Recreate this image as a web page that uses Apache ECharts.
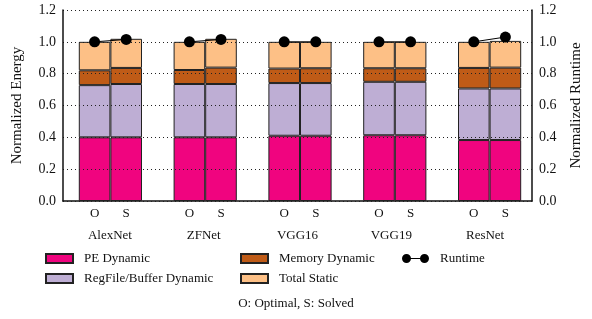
<!DOCTYPE html>
<html>
<head>
<meta charset="utf-8">
<script src="https://cdn.jsdelivr.net/npm/echarts@6/dist/echarts.min.js"></script>
<style>
  html, body { margin: 0; padding: 0; background: #fff; }
  #chart { width: 592px; height: 319px; }
</style>
</head>
<body>
<div id="chart"></div>
<script>
  // networks, each has an O (optimal) and S (solved) bar
  var networks = ['AlexNet', 'ZFNet', 'VGG16', 'VGG19', 'ResNet'];
  var barLabels = ['O', 'S'];
  var yTicks = [0, 0.2, 0.4, 0.6, 0.8, 1.0, 1.2];

  // stacked segment values, order: AlexNet O, AlexNet S, ZFNet O, ZFNet S, ...
  var peDynamic     = [0.400, 0.400, 0.400, 0.400, 0.410, 0.410, 0.413, 0.413, 0.383, 0.383];
  var regfileDyn    = [0.328, 0.335, 0.335, 0.335, 0.331, 0.331, 0.336, 0.336, 0.324, 0.324];
  var memoryDynamic = [0.093, 0.101, 0.088, 0.103, 0.091, 0.093, 0.085, 0.085, 0.129, 0.131];
  var totalStatic   = [0.179, 0.183, 0.177, 0.181, 0.168, 0.166, 0.166, 0.166, 0.164, 0.168];
  var runtime       = [1.000, 1.015, 1.000, 1.015, 1.000, 1.000, 1.000, 1.000, 1.000, 1.030];

  var FONT = "'Liberation Serif', 'DejaVu Serif', serif";

  // category slots: O, S, (gap), O, S, (gap) ...
  var slots = [];
  networks.forEach(function (n, k) {
    slots.push(barLabels[0], barLabels[1]);
    if (k < networks.length - 1) slots.push('');
  });

  // spread a per-bar array over the slots, gaps get '-'
  function spread(arr) {
    var out = [];
    arr.forEach(function (v, i) {
      out.push(v);
      if (i % 2 === 1 && i < arr.length - 1) out.push('-');
    });
    return out;
  }

  var L = 63, R = 55;                       // outer frame (axes)
  var unit = (592 - L - R) / (slots.length + 1);

  function barSeries(name, data, color) {
    return {
      name: name,
      type: 'bar',
      stack: 'energy',
      barCategoryGap: 0,
      data: spread(data),
      itemStyle: { color: color, borderColor: '#222', borderWidth: 1 }
    };
  }

  var chart = echarts.init(document.getElementById('chart'));

  var dumbbell = 'path://M0,4.5A4.5,4.5 0 1,1 9,4.5A4.5,4.5 0 1,1 0,4.5Z M8,4L19,4L19,5L8,5Z M18,4.5A4.5,4.5 0 1,1 27,4.5A4.5,4.5 0 1,1 18,4.5Z';

  var legendBase = {
    orient: 'vertical',
    top: 252,
    padding: 0,
    itemGap: 7,
    itemWidth: 27,
    itemHeight: 9,
    icon: 'rect',
    textStyle: { fontFamily: FONT, fontSize: 13, color: '#111', padding: [0, 0, 0, 6] }
  };

  var tickLabel = function (v) { return v.toFixed(1); };

  var option = {
    animation: false,
    textStyle: { fontFamily: FONT },
    title: {
      text: 'O: Optimal, S: Solved',
      left: 'center',
      top: 297,
      padding: 0,
      textStyle: { fontFamily: FONT, fontSize: 13, fontWeight: 'normal', color: '#111' }
    },
    legend: [
      Object.assign({}, legendBase, { left: 45, data: ['PE Dynamic', 'RegFile/Buffer Dynamic'] }),
      Object.assign({}, legendBase, { left: 240, data: ['Memory Dynamic', 'Total Static'] }),
      Object.assign({}, legendBase, { left: 402, data: [{ name: 'Runtime', icon: dumbbell }] })
    ],
    grid: [
      // bars
      { left: L + unit / 2, right: R + unit / 2, top: 10, bottom: 118 },
      // frame: axes, grid lines, names
      { left: L, right: R, top: 10, bottom: 118 }
    ],
    xAxis: [
      {
        type: 'category',
        gridIndex: 0,
        data: slots,
        axisLine: { show: false },
        axisTick: { show: false },
        axisLabel: { interval: 0, margin: 6, fontFamily: FONT, fontSize: 13, color: '#111' }
      },
      {
        type: 'value',
        gridIndex: 1,
        min: -1,
        max: slots.length,
        interval: 0.5,
        axisLine: { onZero: false, lineStyle: { color: '#111', width: 1.5 } },
        axisTick: { show: false },
        splitLine: { show: false },
        axisLabel: {
          margin: 28,
          fontFamily: FONT,
          fontSize: 13,
          color: '#111',
          formatter: function (v) {
            var k = v - 0.5;
            if (Math.abs(k % 3) > 1e-6) return '';
            return networks[Math.round(k / 3)] || '';
          }
        }
      }
    ],
    yAxis: [
      { type: 'value', gridIndex: 0, min: 0, max: 1.2, show: false },
      { type: 'value', gridIndex: 0, min: 0, max: 1.2, show: false, position: 'right' },
      {
        type: 'value',
        gridIndex: 1,
        min: yTicks[0],
        max: yTicks[yTicks.length - 1],
        interval: 0.2,
        z: 5,
        name: 'Normalized Energy',
        nameLocation: 'middle',
        nameGap: 38,
        nameTextStyle: { fontFamily: FONT, fontSize: 15, color: '#111' },
        axisLine: { show: true, onZero: false, lineStyle: { color: '#111', width: 1.5 } },
        axisTick: { show: false },
        axisLabel: { margin: 7, fontFamily: FONT, fontSize: 14, color: '#111', formatter: tickLabel },
        splitLine: { show: true, lineStyle: { color: '#222', type: [1, 3], width: 1 } }
      },
      {
        type: 'value',
        gridIndex: 1,
        min: yTicks[0],
        max: yTicks[yTicks.length - 1],
        interval: 0.2,
        position: 'right',
        name: 'Normalized Runtime',
        nameLocation: 'middle',
        nameGap: 37,
        nameRotate: 90,
        nameTextStyle: { fontFamily: FONT, fontSize: 15, color: '#111' },
        axisLine: { show: true, onZero: false, lineStyle: { color: '#111', width: 1.5 } },
        axisTick: { show: false },
        axisLabel: { margin: 7, fontFamily: FONT, fontSize: 14, color: '#111', formatter: tickLabel },
        splitLine: { show: false }
      }
    ],
    series: [
      barSeries('PE Dynamic', peDynamic, '#f0047f'),
      barSeries('RegFile/Buffer Dynamic', regfileDyn, '#beaed4'),
      barSeries('Memory Dynamic', memoryDynamic, '#bf5b17'),
      barSeries('Total Static', totalStatic, '#fdc086'),
      {
        name: 'Runtime',
        type: 'line',
        xAxisIndex: 0,
        yAxisIndex: 1,
        data: spread(runtime),
        symbol: 'circle',
        symbolSize: 11,
        z: 10,
        connectNulls: false,
        lineStyle: { color: '#000', width: 1 },
        itemStyle: { color: '#000' }
      }
    ]
  };

  chart.setOption(option);
</script>
</body>
</html>
